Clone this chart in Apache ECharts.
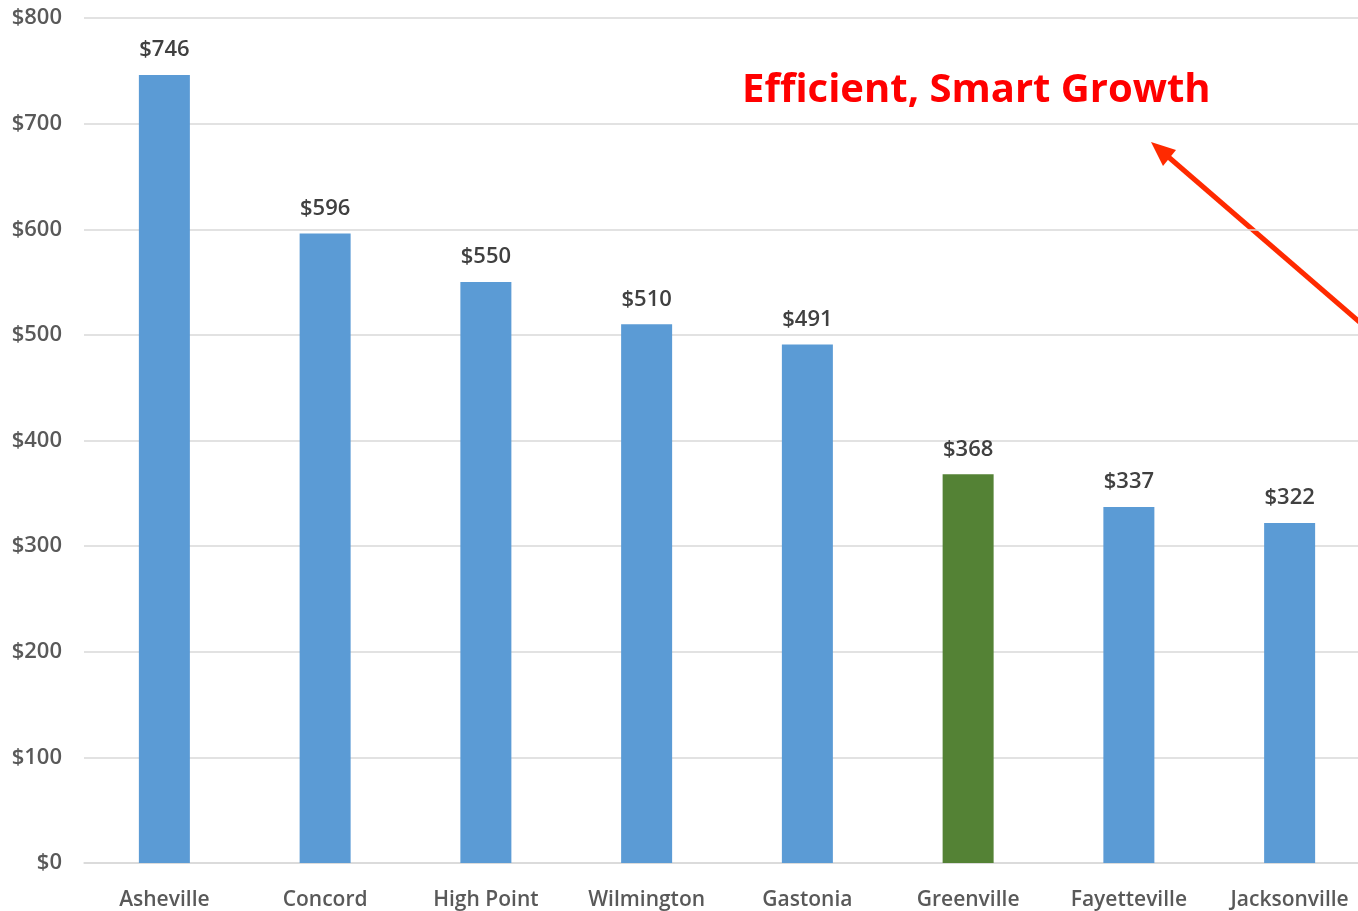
<!DOCTYPE html>
<html>
<head>
<meta charset="utf-8">
<script src="https://cdn.jsdelivr.net/npm/echarts@6/dist/echarts.min.js"></script>
<style>
  html, body { margin: 0; padding: 0; background: #fff; overflow: hidden; }
  #chart { width: 1370px; height: 911px; }
</style>
</head>
<body>
<div id="chart"></div>
<script>
const cities = ['Asheville', 'Concord', 'High Point', 'Wilmington', 'Gastonia', 'Greenville', 'Fayetteville', 'Jacksonville'];
const values = [746, 596, 550, 510, 491, 368, 337, 322];
const highlight = 'Greenville';

const blue = '#5B9BD5';
const green = '#548235';
const font = 'Open Sans';

// the plot runs a little past the right edge of the window, as in the original
const chart = echarts.init(document.getElementById('chart'));
chart.setOption({
  animation: false,
  grid: { left: 84, top: 18, right: 0, bottom: 48, containLabel: false },
  xAxis: {
    type: 'category',
    data: cities,
    axisTick: { show: false },
    axisLine: { lineStyle: { color: '#d9d9d9', width: 1.5 } },
    axisLabel: { color: '#595959', fontFamily: font, fontWeight: 600, fontSize: 21, margin: 27 }
  },
  yAxis: {
    type: 'value',
    min: 0,
    max: 800,
    interval: 100,
    axisLine: { show: false },
    axisTick: { show: false },
    splitLine: { lineStyle: { color: '#d9d9d9', width: 1.5 } },
    axisLabel: {
      color: '#595959', fontFamily: font, fontWeight: 600, fontSize: 22, margin: 22,
      formatter: v => '$' + v
    }
  },
  series: [{
    type: 'bar',
    barWidth: 51,
    data: values.map((v, i) => ({
      value: v,
      itemStyle: { color: cities[i] === highlight ? green : blue }
    })),
    label: {
      show: true,
      position: 'top',
      distance: 14,
      color: '#404040',
      fontFamily: font,
      fontWeight: 600,
      fontSize: 22,
      formatter: p => '$' + p.value
    }
  }],
  graphic: [
    {
      type: 'text',
      left: 742,
      top: 71,
      style: {
        text: 'Efficient, Smart Growth',
        fill: '#FF0000',
        font: 'bold 40px "Open Sans"'
      }
    },
    {
      type: 'line',
      shape: { x1: 1370, y1: 331, x2: 1165, y2: 154 },
      style: { stroke: '#FF2A00', lineWidth: 5 }
    },
    {
      type: 'polygon',
      shape: { points: [[1151, 142], [1176, 150], [1163, 166]] },
      style: { fill: '#FF2A00' }
    }
  ]
});
</script>
</body>
</html>
